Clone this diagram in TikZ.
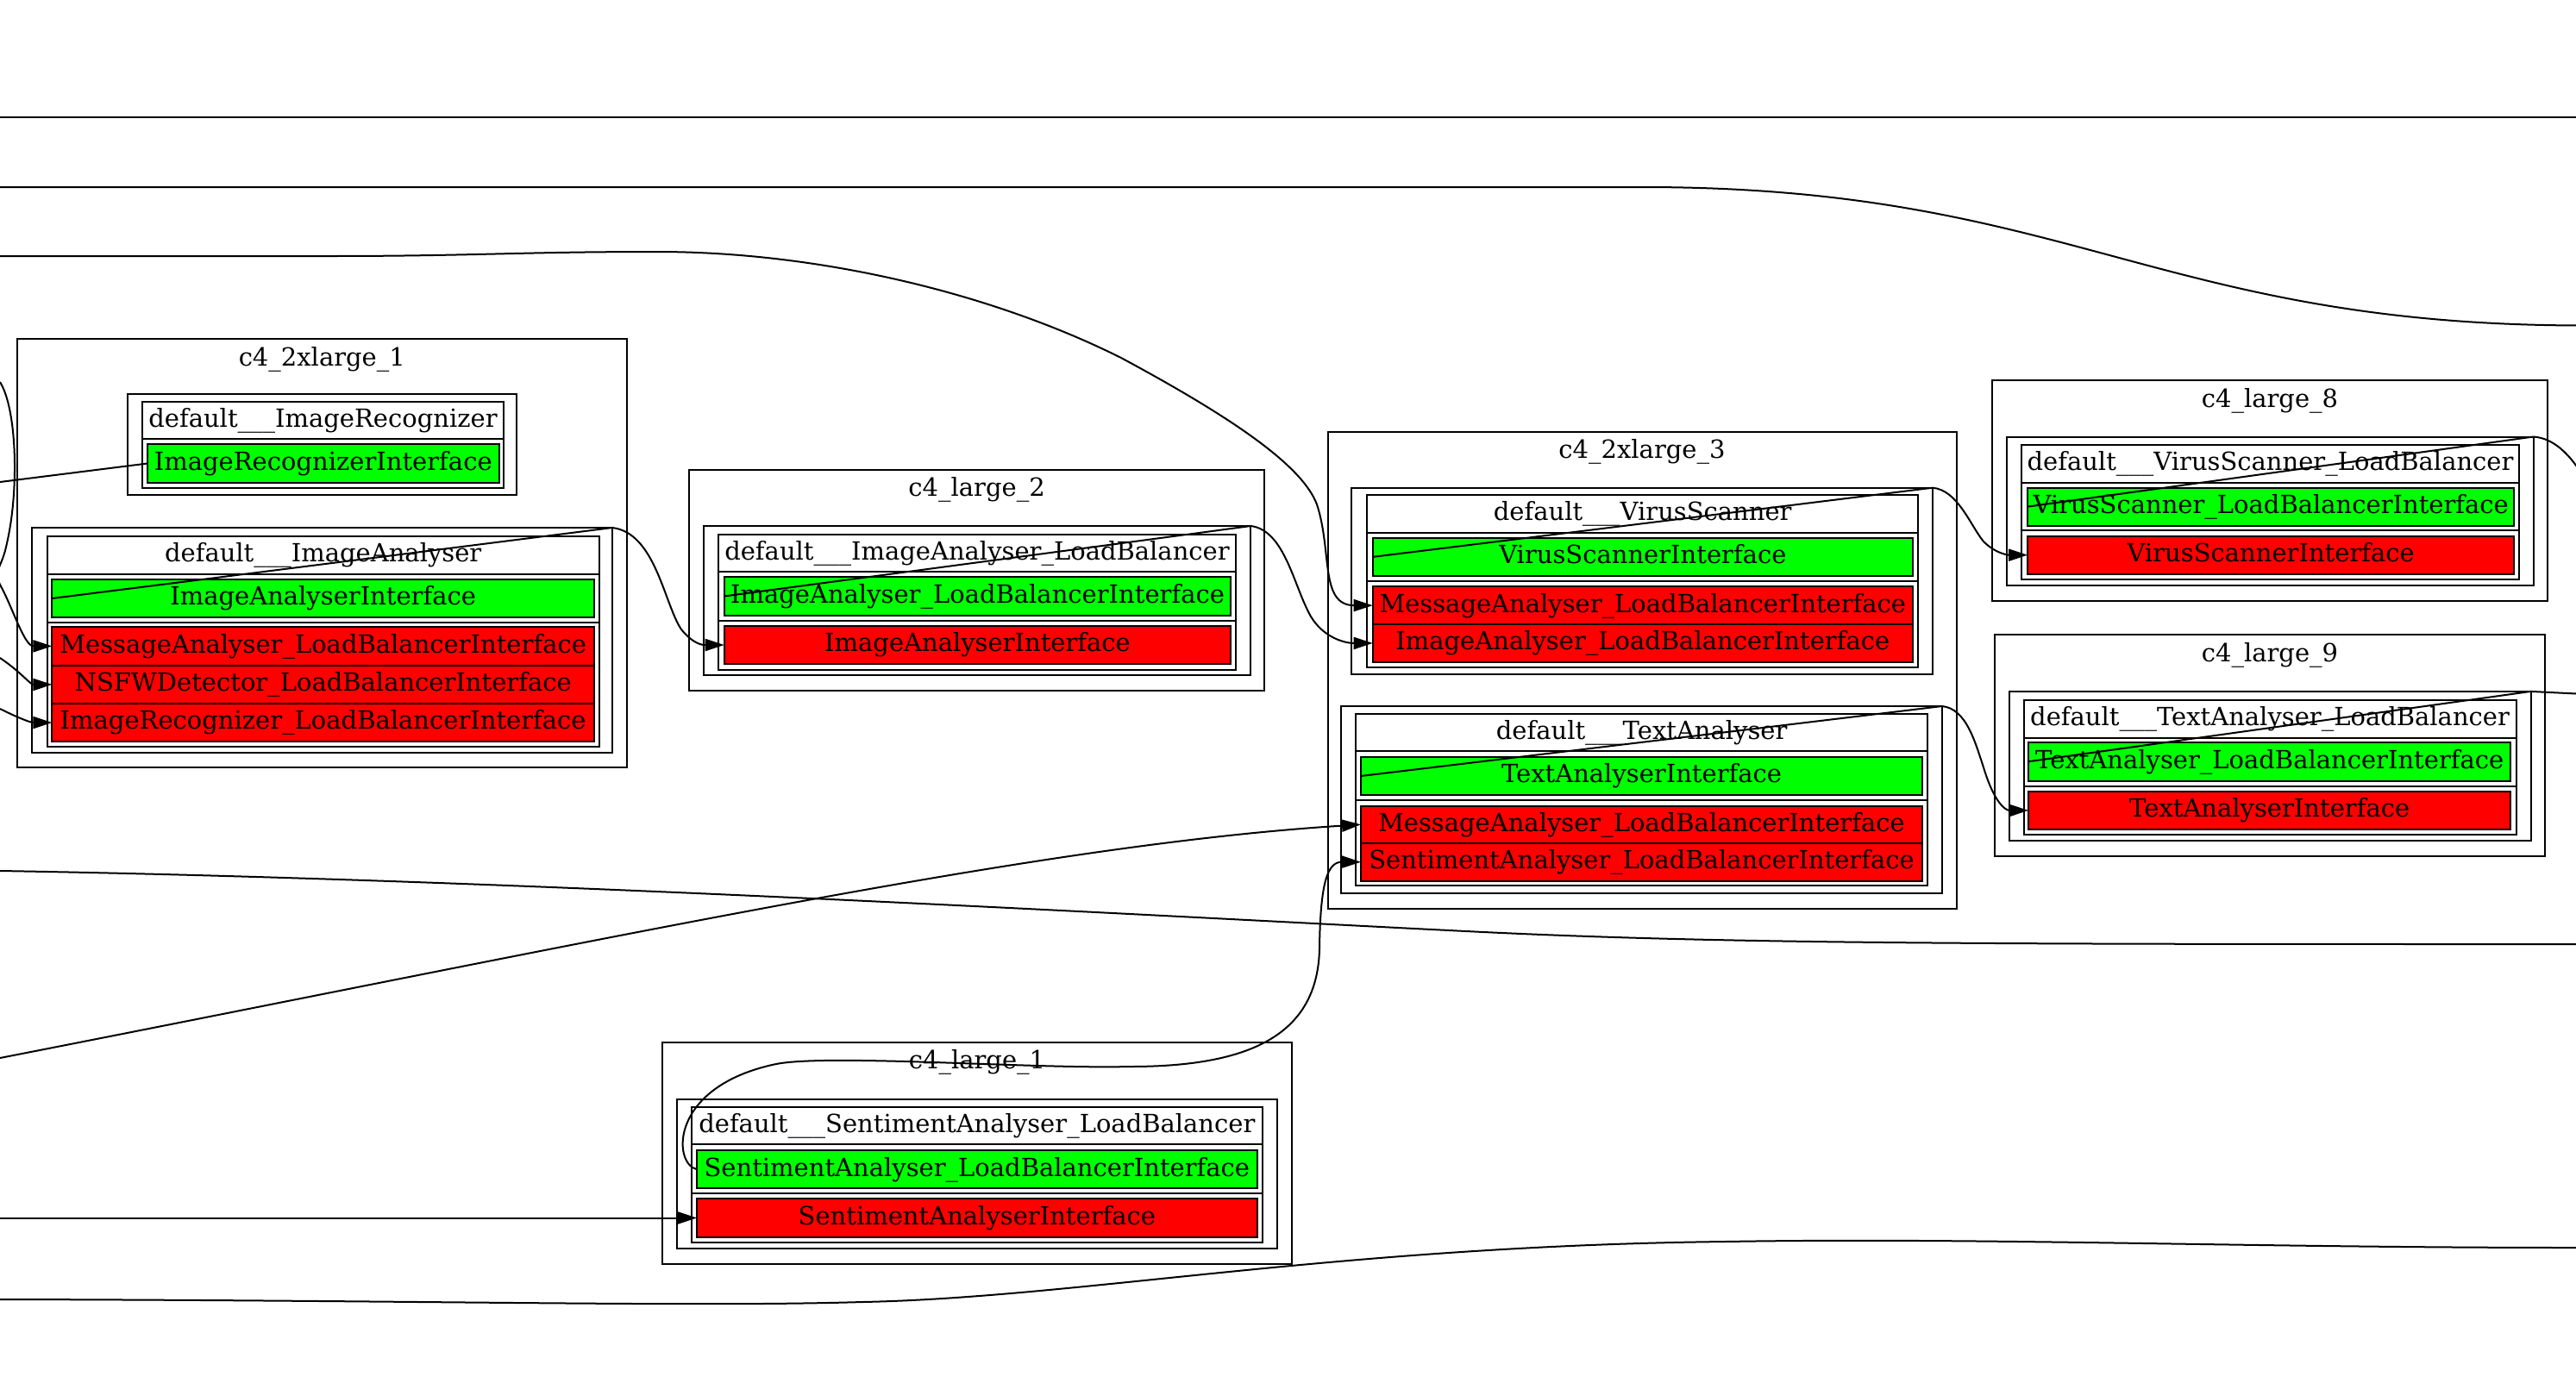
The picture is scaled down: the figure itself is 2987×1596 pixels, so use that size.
\documentclass[tikz,border=0pt]{standalone}
\usepackage{fontspec}
\setmainfont{DejaVu Serif}
\usetikzlibrary{arrows.meta}
\definecolor{gvgreen}{HTML}{00FF00}
\definecolor{gvred}{HTML}{FF0000}
\newcommand\gvbox[7]{%
  \pgfmathsetmacro\gvw{(#4-#2)*0.5}%
  \pgfmathsetmacro\gvh{(#5-#3)*0.5}%
  \node[#6,minimum width=\gvw pt,minimum height=\gvh pt] (#1) at ({(#2+#4)/2},{(#3+#5)/2}) {#7};}
\tikzset{
  gvframe/.style={draw, line width=1pt, inner sep=0pt, outer sep=0pt, text height=0.93em, text depth=0.14em},
  api/.style={gvframe, fill=gvgreen},
  req/.style={gvframe, fill=gvred},
  ttl/.style={inner sep=0pt, text height=0.93em, text depth=0.14em},
  gvedge/.style={line width=1pt},
  gvarr/.style={gvedge, -{Triangle[length=11pt,width=7pt]}},
}
\begin{document}
\begin{tikzpicture}[x=0.5pt,y=-0.5pt,font=\fontsize{14.5}{17}\selectfont]
\useasboundingbox (0,0) rectangle (2987,1596);
\fill[white] (0,0) rectangle (2987,1596);
% c4_2xlarge_1
\gvbox{c1}{19.8}{392.7}{726.8}{890}{gvframe}{}
\node[ttl] (c1t) at (373.3,416.7) {c4\_2xlarge\_1};
\gvbox{irBox}{147.7}{457}{599.4}{574}{gvframe}{}
\gvbox{irTbl}{165}{465.7}{584}{566}{gvframe}{}
\gvbox{irHdr}{165}{465.7}{584}{509}{gvframe}{default\_\_\_ImageRecognizer}
\gvbox{irApi}{171}{515}{578.6}{560}{api}{ImageRecognizerInterface}
\gvbox{iaBox}{36.8}{612}{710}{873}{gvframe}{}
\gvbox{iaTbl}{54.7}{622}{694.7}{866}{gvframe}{}
\gvbox{iaHdr}{54.7}{622}{694.7}{665.7}{gvframe}{default\_\_\_ImageAnalyser}
\gvbox{iaSec}{54.7}{665.7}{694.7}{721.7}{gvframe}{}
\gvbox{iaApi}{60.4}{672}{689}{716}{api}{ImageAnalyserInterface}
\gvbox{iaReqA}{60.4}{727}{689}{771.7}{req}{MessageAnalyser\_LoadBalancerInterface}
\gvbox{iaReqB}{60.4}{771.7}{689}{816}{req}{NSFWDetector\_LoadBalancerInterface}
\gvbox{iaReqC}{60.4}{816}{689}{860}{req}{ImageRecognizer\_LoadBalancerInterface}
% c4_large_2
\gvbox{c2}{799}{545}{1466.3}{800.7}{gvframe}{}
\node[ttl] (c2t) at (1132.6,568) {c4\_large\_2};
\gvbox{ialbBox}{816}{610}{1450.3}{783}{gvframe}{}
\gvbox{ialbTbl}{833}{620}{1433}{777}{gvframe}{}
\gvbox{ialbHdr}{833}{620}{1433}{663.3}{gvframe}{default\_\_\_ImageAnalyser\_LoadBalancer}
\gvbox{ialbSec}{833}{663.3}{1433}{720}{gvframe}{}
\gvbox{ialbApi}{839.7}{669}{1427.4}{714}{api}{ImageAnalyser\_LoadBalancerInterface}
\gvbox{ialbReq}{839.7}{726}{1427.4}{770}{req}{ImageAnalyserInterface}
% c4_2xlarge_3
\gvbox{c3}{1539.6}{501}{2268.5}{1053.5}{gvframe}{}
\node[ttl] (c3t) at (1904,523.5) {c4\_2xlarge\_3};
\gvbox{vsBox}{1567}{565.7}{2240.8}{782}{gvframe}{}
\gvbox{vsTbl}{1585.4}{574.3}{2224}{774}{gvframe}{}
\gvbox{vsHdr}{1585.4}{574.3}{2224}{617.5}{gvframe}{default\_\_\_VirusScanner}
\gvbox{vsSec}{1585.4}{617.5}{2224}{674}{gvframe}{}
\gvbox{vsApi}{1591.7}{624.3}{2218}{667.5}{api}{VirusScannerInterface}
\gvbox{vsReqA}{1591.7}{680.3}{2218}{724}{req}{MessageAnalyser\_LoadBalancerInterface}
\gvbox{vsReqB}{1591.7}{724}{2218}{767.8}{req}{ImageAnalyser\_LoadBalancerInterface}
\gvbox{taBox}{1555.4}{819}{2252}{1036}{gvframe}{}
\gvbox{taTbl}{1572.3}{828}{2235}{1027}{gvframe}{}
\gvbox{taHdr}{1572.3}{828}{2235}{871.3}{gvframe}{default\_\_\_TextAnalyser}
\gvbox{taSec}{1572.3}{871.3}{2235}{928}{gvframe}{}
\gvbox{taApi}{1578}{878}{2229}{922}{api}{TextAnalyserInterface}
\gvbox{taReqA}{1578}{934.5}{2229}{978}{req}{MessageAnalyser\_LoadBalancerInterface}
\gvbox{taReqB}{1578}{978}{2229}{1021.5}{req}{SentimentAnalyser\_LoadBalancerInterface}
% c4_large_8
\gvbox{c8}{2310}{441}{2954}{696.5}{gvframe}{}
\node[ttl] (c8t) at (2632,465) {c4\_large\_8};
\gvbox{vslbBox}{2326.5}{506.5}{2937.5}{679}{gvframe}{}
\gvbox{vslbTbl}{2344}{516.2}{2921}{672.4}{gvframe}{}
\gvbox{vslbHdr}{2344}{516.2}{2921}{559.5}{gvframe}{default\_\_\_VirusScanner\_LoadBalancer}
\gvbox{vslbSec}{2344}{559.5}{2921}{615}{gvframe}{}
\gvbox{vslbApi}{2351}{565.8}{2915.4}{609.5}{api}{VirusScanner\_LoadBalancerInterface}
\gvbox{vslbReq}{2351}{621.7}{2915.4}{665.7}{req}{VirusScannerInterface}
% c4_large_9
\gvbox{c9}{2313}{736.4}{2951}{993}{gvframe}{}
\node[ttl] (c9t) at (2632,759.3) {c4\_large\_9};
\gvbox{talbBox}{2330}{801.9}{2934.5}{974.6}{gvframe}{}
\gvbox{talbTbl}{2346.5}{811.9}{2917.6}{967.6}{gvframe}{}
\gvbox{talbHdr}{2346.5}{811.9}{2917.6}{855.5}{gvframe}{default\_\_\_TextAnalyser\_LoadBalancer}
\gvbox{talbSec}{2346.5}{855.5}{2917.6}{912}{gvframe}{}
\gvbox{talbApi}{2352}{861}{2911.4}{905.5}{api}{TextAnalyser\_LoadBalancerInterface}
\gvbox{talbReq}{2352}{917.7}{2911.4}{962}{req}{TextAnalyserInterface}
% c4_large_1
\gvbox{cL}{768.4}{1209.3}{1497.6}{1466}{gvframe}{}
\node[ttl] (cLt) at (1133,1231.7) {c4\_large\_1};
\gvbox{salbBox}{784.8}{1275}{1481}{1448.3}{gvframe}{}
\gvbox{salbTbl}{802}{1284.3}{1463.7}{1440.7}{gvframe}{}
\gvbox{salbHdr}{802}{1284.3}{1463.7}{1327.3}{gvframe}{default\_\_\_SentimentAnalyser\_LoadBalancer}
\gvbox{salbSec}{802}{1327.3}{1463.7}{1384}{gvframe}{}
\gvbox{salbApi}{808}{1334}{1457.7}{1378.3}{api}{SentimentAnalyser\_LoadBalancerInterface}
\gvbox{salbReq}{808}{1390}{1457.7}{1435}{req}{SentimentAnalyserInterface}
% free ends
\coordinate (eTopL) at (0,136); \coordinate (eTopR) at (2987,136);
\coordinate (e2L) at (0,217); \coordinate (e2R) at (2995,377.5);
\coordinate (e3L) at (0,297);
\coordinate (e4L) at (0,1010); \coordinate (e4R) at (2987,1095);
\coordinate (e5L) at (0,1227);
\coordinate (e6L) at (0,1412.5);
\coordinate (e8L) at (0,1507); \coordinate (e8R) at (2987,1447);
\coordinate (e9L) at (0,559);
\coordinate (e14R) at (3000,560);
\coordinate (e15R) at (2987,804.5);
\coordinate (eAL) at (0,443);
\coordinate (eCL) at (0,763);
\coordinate (eDL) at (0,822);
\clip (0,0) rectangle (2987,1596);
% connectors
\draw[gvedge] (eTopL) -- (eTopR);
\draw[gvedge] (e2L) -- (1905,217) .. controls (2400,217) and (2500,377) .. (e2R);
\draw[gvarr] (e3L) -- (381,297) .. controls (550,297) and (600,292) .. (762,292) .. controls (950,292) and (1150,340) .. (1300,415) .. controls (1430,485) and (1510,540) .. (1527,585) .. controls (1545,640) and (1530,702) .. (vsReqA.west);
\draw[gvedge] (e4L) .. controls (600,1020) and (1300,1060) .. (1700,1080) .. controls (2000,1095) and (2300,1095) .. (e4R);
\draw[gvarr] (e5L) .. controls (700,1090) and (1200,980) .. (taReqA.west);
\draw[gvarr] (e6L) -- (salbReq.west);
\draw[gvarr] (salbApi.west) .. controls (780,1350) and (775,1260) .. (900,1234) .. controls (960,1222) and (1200,1240) .. (1310,1237) .. controls (1450,1237) and (1528,1200) .. (1530,1100) .. controls (1531,1020) and (1540,999.5) .. (taReqB.west);
\draw[gvedge] (e8L) .. controls (500,1508) and (800,1516) .. (1000,1510) .. controls (1250,1505) and (1550,1445) .. (2000,1440) .. controls (2300,1435) and (2600,1447) .. (e8R);
\draw[gvedge] (irApi.west) -- (e9L);
\draw[gvarr] (iaApi.west) -- (iaBox.north east) .. controls (760,618) and (770,700) .. (790,730) .. controls (805,748) and (815,748) .. (ialbReq.west);
\draw[gvarr] (ialbApi.west) -- (ialbBox.north east) .. controls (1490,615) and (1500,680) .. (1520,715) .. controls (1535,740) and (1560,746) .. (vsReqB.west);
\draw[gvarr] (vsApi.west) -- (vsBox.north east) .. controls (2270,568) and (2285,610) .. (2300,628) .. controls (2315,643) and (2330,643.7) .. (vslbReq.west);
\draw[gvarr] (taApi.west) -- (taBox.north east) .. controls (2280,822) and (2290,860) .. (2300,890) .. controls (2312,930) and (2325,940) .. (talbReq.west);
\draw[gvedge] (vslbApi.west) -- (vslbBox.north east) .. controls (2960,508) and (2980,525) .. (e14R);
\draw[gvedge] (talbApi.west) -- (talbBox.north east) -- (e15R);
\draw[gvarr] (eAL) .. controls (20,475) and (22,570) .. (8,630) .. controls (2,660) and (-8,660) .. (0,678) .. controls (15,705) and (28,749.4) .. (iaReqA.west);
\draw[gvarr] (eCL) .. controls (25,780) and (35,794) .. (iaReqB.west);
\draw[gvarr] (eDL) .. controls (20,832) and (35,838) .. (iaReqC.west);
\end{tikzpicture}
\end{document}
